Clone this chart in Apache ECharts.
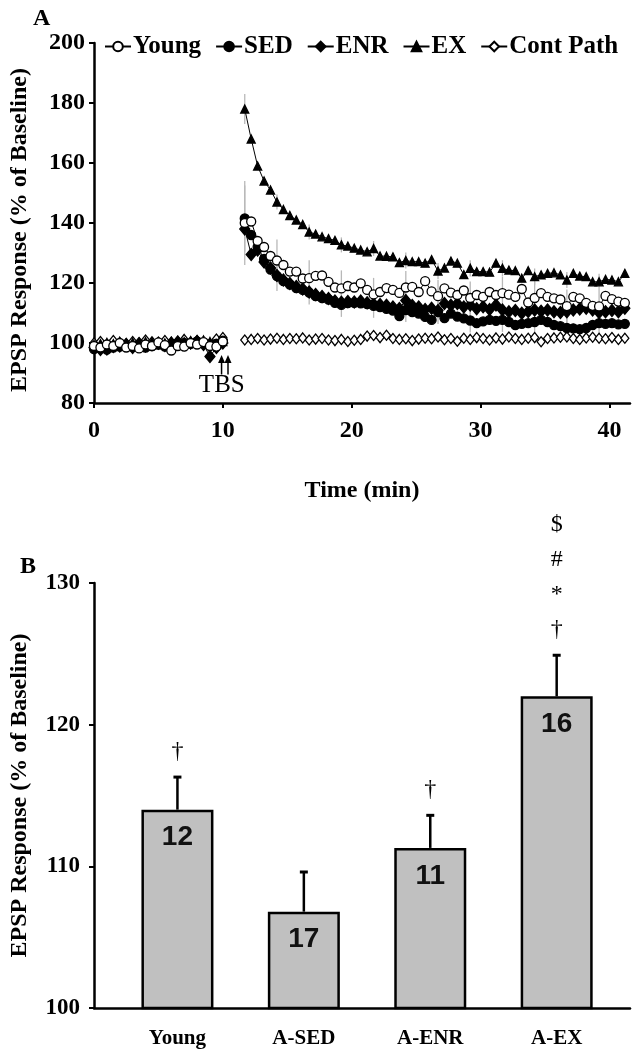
<!DOCTYPE html>
<html><head><meta charset="utf-8">
<script src="https://cdn.jsdelivr.net/npm/echarts@6/dist/echarts.min.js"></script>
<style>html,body{margin:0;padding:0;background:#fff}#c{width:632px;height:1050px}</style>
</head><body><div id="c"></div>
<script>
// ---------- Panel A data (EPSP % of baseline, sampled every 0.5 min) ----------
const STEP = 0.5;
const BASE_START = 0;
const POST_START = 11.7;
const seriesNames = ['Young', 'SED', 'ENR', 'EX', 'Cont Path'];

const youngBase = [99,98.5,99.5,99,100,98.5,99,98.2,99.5,99,100.2,99.3,97.5,99,98.8,100,99.5,100.3,99,98.8,100.5];
const sedBase   = [98,98.3,97.8,98.5,98.8,99,98.7,99.3,98.5,99,99.5,98.8,99.5,99.8,100,99.7,100.5,100.2,99.6,99.8,100.8];
const enrBase   = [98.5,97.8,98,98.8,99,99.5,98.5,99.8,99,99.5,100,99.2,99.8,100.3,99.5,100,100.5,99.5,95.5,98.5,100];
const exBase    = [99.5,99.8,100.2,99.8,100.5,99.6,100.2,99.8,100.5,100.2,99.5,100,100.5,99.8,100.4,100.8,100.2,101,100.5,99.5,100.5];
const contBase  = [100,100.5,99.5,100.8,100.2,99.8,100.5,100,101,100.4,99.6,100.8,100.3,100.6,101.2,99.8,100.8,100.5,99.2,101.3,101.8];

const youngPost = [140,140.5,134,132,129,127.5,126,123.8,123.8,121.5,
  121.6,122.4,122.5,120.4,118.5,118.2,119,118.5,119.9,117.7,
  116.2,117,118.3,117.7,116.7,118.5,118.7,117,120.6,117.2,
  115.6,118.2,116.8,116,117.5,115,116,115.4,117,116,
  116.6,116.1,115.4,118,113.5,115,116.6,115.4,114.9,114.5,
  112.3,115.4,114.9,113.4,112.4,112.2,115.7,114.6,113.8,113.4];
const sedPost = [141.5,136,132,128,124.5,122.3,120.6,119.5,118.3,117.7,
  116.8,115.6,115,114.5,113.4,112.7,113.3,113.4,113.2,113,
  112.4,112,111.4,110.8,109,111,110.3,109.8,108.7,107.7,
  110.3,108.3,109.8,108.8,108.2,107.5,106.6,107.2,107.7,107.4,
  107.7,107,106,106.4,106.6,107,107.7,107,106,105.6,
  105,104.9,104.6,105,106,106.6,106.4,106.6,106.2,106.4];
const enrPost = [138,129.5,131,127,125,122.5,121,119.8,118.8,118,
  117,116.2,115.5,114.8,114,113.6,113.8,113.7,114,113.4,
  113,112.8,112.6,112,111.5,114.2,112.5,112,111.2,111.6,
  110.8,113.2,112.6,113.2,112,112.7,111.4,112.1,111.2,112.7,
  111,110.4,110.8,109.9,110.5,111,110.6,111,110.4,110.2,
  110.4,111,111.3,111.6,111,110.2,110.4,110.8,110.4,111.6];
const exPost = [178,168,159,154,151,147,144.5,142.5,141,139.5,
  137,136.3,135.4,134.8,134.2,132.7,132.3,131.6,131,130.4,
  131.5,129,128.9,128.7,126.8,127.5,127.1,127.1,126.6,127.8,
  124,125,127.3,126.6,122.8,124.9,123.8,123.8,123.6,126.6,
  124.9,124.3,124.1,121.6,124.1,122.1,122.7,123.2,123.4,122.7,
  121,123.2,122.3,122.1,120.4,120.4,121.2,121,120.4,123.2];
const contPost = [101,101.2,101.5,101,101.3,101.6,101.2,101.5,101.4,101.7,
  101,101.3,101.5,101,100.8,101.2,100.5,100.9,101.2,102.3,
  102.5,101.8,102.6,101.5,101.2,101.4,100.8,101.3,101.6,101.4,
  102,101.1,101.5,100.6,101.6,101.2,101.8,101.5,101,101.7,
  101.3,102,101.5,101.2,101.6,101.8,100.4,101.5,101.7,101.9,
  102,101.5,101.2,101.7,101.9,101.6,101.4,101.8,101.2,101.6];

// SEM shown on every 5th post-TBS point
const ERR_EVERY = 5;
const exSem    = [5,2.5,2.5,2.5,2.5,2.7,2.7,2.7,2.7,2.7,2.7,2.7];
const youngSem = [14,7,6,6,5.5,5.5,5.5,5.5,5.5,5.5,5.5,5.5];
const sedSem   = [11,5,4,4,4,4,4,4,4,4,4,4];

const xTicksA = [0, 10, 20, 30, 40];
const tbsTimes = [9.9, 10.4];

// ---------- Panel B data ----------
const barCategories = ['Young', 'A-SED', 'A-ENR', 'A-EX'];
const barMeans = [114.0, 106.8, 111.3, 122.0];
const barSems  = [2.3, 2.8, 2.3, 2.9];
const barN     = ['12', '17', '11', '16'];
const barMarks = ['†', '', '†', '$\n#\n*\n†'];

// ---------- build ----------
const SERIF = 'Liberation Serif';
function build(base, post) {
  const d = base.map((v, i) => [BASE_START + i * STEP, v]);
  d.push([(BASE_START + (base.length - 1) * STEP + POST_START) / 2, '-']);
  post.forEach((v, i) => d.push([POST_START + i * STEP, v]));
  return d;
}
function errData(post, sem) {
  return sem.map((s, k) => [POST_START + k * ERR_EVERY * STEP, post[k * ERR_EVERY], s]);
}
const styles = {
  'Young':     {symbol: 'circle',   size: 9,  fill: '#fff'},
  'SED':       {symbol: 'circle',   size: 9,  fill: '#000'},
  'ENR':       {symbol: 'diamond',  size: [10, 12], fill: '#000'},
  'EX':        {symbol: 'triangle', size: 8,  fill: '#000'},
  'Cont Path': {symbol: 'diamond',  size: [8, 10], fill: '#fff'}
};
const dataMap = {
  'Young': build(youngBase, youngPost),
  'SED': build(sedBase, sedPost),
  'ENR': build(enrBase, enrPost),
  'EX': build(exBase, exPost),
  'Cont Path': build(contBase, contPost)
};
const drawOrder = ['Cont Path', 'EX', 'SED', 'ENR', 'Young'];

const lineSeries = drawOrder.map((n, k) => ({
  name: n, type: 'line', xAxisIndex: 0, yAxisIndex: 0,
  data: dataMap[n], connectNulls: false,
  symbol: styles[n].symbol, symbolSize: styles[n].size, showAllSymbol: true,
  itemStyle: {color: styles[n].fill, borderColor: '#000', borderWidth: 1.3},
  lineStyle: {color: '#000', width: 1},
  z: 3 + k, animation: false
}));

function errSeries(data) {
  return {
    type: 'custom', xAxisIndex: 0, yAxisIndex: 0, data, z: 1, silent: true,
    renderItem: (params, api) => {
      const t = api.value(0), v = api.value(1), s = api.value(2);
      const a = api.coord([t, v - s]), b = api.coord([t, v + s]);
      return {type: 'line', shape: {x1: a[0], y1: a[1], x2: b[0], y2: b[1]},
              style: {stroke: '#b8b8b8', lineWidth: 1.3}};
    }
  };
}

const tbsSeries = {
  type: 'custom', xAxisIndex: 0, yAxisIndex: 0, silent: true, z: 10,
  data: tbsTimes.map(t => [t]),
  renderItem: (params, api) => {
    const t = api.value(0);
    const top = api.coord([t, 96]), bot = api.coord([t, 89.5]);
    const children = [
      {type: 'line', shape: {x1: bot[0], y1: bot[1], x2: top[0], y2: top[1] + 3}, style: {stroke: '#000', lineWidth: 1.5}},
      {type: 'polygon', shape: {points: [[top[0], top[1]], [top[0] - 3.5, top[1] + 8], [top[0] + 3.5, top[1] + 8]]}, style: {fill: '#000'}}
    ];
    if (params.dataIndex === 0) {
      const mid = (tbsTimes[0] + tbsTimes[1]) / 2;
      const p = api.coord([mid, 86]);
      children.push({type: 'text', style: {text: 'TBS', x: p[0] - 3, y: p[1], align: 'center', verticalAlign: 'middle',
        font: '25px "' + SERIF + '"', fill: '#000'}});
    }
    return {type: 'group', children};
  }
};

const barSeries = {
  type: 'bar', xAxisIndex: 1, yAxisIndex: 1, barWidth: 72,
  data: barMeans.map((v, i) => [i, v]),
  itemStyle: {color: '#c0c0c0', borderColor: '#000', borderWidth: 2.5},
  label: {show: true, position: 'insideTop', distance: 14,
    formatter: p => barN[p.dataIndex],
    fontFamily: 'Liberation Sans', fontWeight: 'bold', fontSize: 28, color: '#111'},
  z: 2, animation: false
};
const barErr = {
  type: 'custom', xAxisIndex: 1, yAxisIndex: 1, z: 3, silent: true,
  data: barMeans.map((v, i) => [i, v, barSems[i]]),
  renderItem: (params, api) => {
    const i = api.value(0), v = api.value(1), s = api.value(2);
    const b = api.coord([i, v]), t = api.coord([i, v + s]);
    const children = [
      {type: 'line', shape: {x1: b[0], y1: b[1], x2: t[0], y2: t[1]}, style: {stroke: '#000', lineWidth: 2.5}},
      {type: 'line', shape: {x1: t[0] - 4, y1: t[1], x2: t[0] + 4, y2: t[1]}, style: {stroke: '#000', lineWidth: 3}}
    ];
    const m = barMarks[params.dataIndex];
    if (m) children.push({type: 'text', style: {text: m, x: t[0], y: t[1] - 8, align: 'center', verticalAlign: 'bottom',
      font: '24px "' + SERIF + '"', lineHeight: 35, fill: '#000'}});
    return {type: 'group', children};
  }
};

const axisLineStyle = {show: true, onZero: false, lineStyle: {color: '#000', width: 2.5}};
const tickStyle = {show: true, inside: false, length: 5, lineStyle: {color: '#000', width: 2}};
const boldSerif = size => ({fontFamily: SERIF, fontWeight: 'bold', fontSize: size, color: '#000'});

const option = {
  animation: false,
  backgroundColor: '#fff',
  title: [
    {text: 'A', left: 28, top: 2, textStyle: boldSerif(24)},
    {text: 'B', left: 15, top: 550, textStyle: boldSerif(24)}
  ],
  legend: {
    data: seriesNames, top: 34, left: 104, width: 528, padding: 0,
    itemWidth: 26, itemHeight: 12, itemGap: 14,
    textStyle: Object.assign(boldSerif(25), {padding: [0, 0, 0, -3]}), selectedMode: false
  },
  grid: [
    {left: 92, right: 2, top: 43, height: 360},
    {left: 92, right: 2, top: 583, height: 425}
  ],
  xAxis: [
    {type: 'value', gridIndex: 0, min: 0, max: 41.6, interval: 10,
     axisLine: axisLineStyle, axisTick: Object.assign({customValues: xTicksA}, tickStyle), splitLine: {show: false},
     axisLabel: Object.assign(boldSerif(24), {margin: 16, customValues: xTicksA}),
     name: 'Time (min)', nameLocation: 'middle', nameGap: 76, nameTextStyle: boldSerif(24)},
    {type: 'value', gridIndex: 1, min: -0.66, max: 3.58,
     axisLine: axisLineStyle, axisTick: {show: false}, splitLine: {show: false},
     axisLabel: Object.assign(boldSerif(21), {margin: 20, customValues: [0, 1, 2, 3],
       formatter: v => barCategories[Math.round(v)] || ''})}
  ],
  yAxis: [
    {type: 'value', gridIndex: 0, min: 80, max: 200, interval: 20,
     axisLine: axisLineStyle, axisTick: tickStyle, splitLine: {show: false},
     axisLabel: Object.assign(boldSerif(24), {margin: 9}),
     name: 'EPSP Response (% of Baseline)', nameLocation: 'middle', nameGap: 62,
     nameTextStyle: Object.assign(boldSerif(24), {padding: [0, 0, 0, -14]})},
    {type: 'value', gridIndex: 1, min: 100, max: 130, interval: 10,
     axisLine: axisLineStyle, axisTick: tickStyle, splitLine: {show: false},
     axisLabel: Object.assign(boldSerif(23), {margin: 14}),
     name: 'EPSP Response (% of Baseline)', nameLocation: 'middle', nameGap: 62, nameTextStyle: boldSerif(24)}
  ],
  series: [
    errSeries(errData(exPost, exSem)),
    errSeries(errData(youngPost, youngSem)),
    errSeries(errData(sedPost, sedSem)),
    ...lineSeries,
    tbsSeries,
    barSeries,
    barErr
  ]
};
const chart = echarts.init(document.getElementById('c'), null, {renderer: 'canvas'});
chart.setOption(option);
</script>
</body></html>
